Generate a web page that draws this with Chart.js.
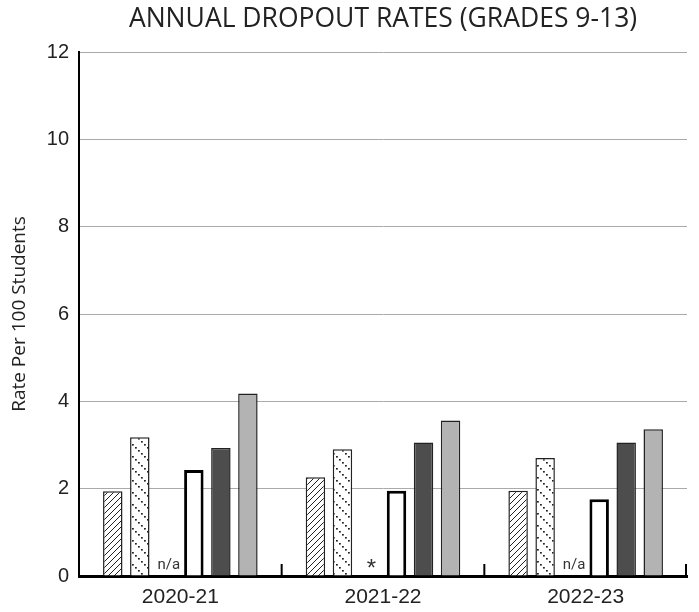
<!DOCTYPE html>
<html>
<head>
<meta charset="utf-8">
<script src="https://cdn.jsdelivr.net/npm/chart.js@4/dist/chart.umd.min.js"></script>
<style>
  html, body { margin: 0; padding: 0; background: #ffffff; }
  #wrap { width: 699px; height: 612px; }
</style>
</head>
<body>
<div id="wrap"><canvas id="c" width="699" height="612"></canvas></div>
<script>
// School years on the category axis
const years = ['2020-21', '2021-22', '2022-23'];

// Dropout rate per 100 students, one array per student group
const groupA = [1.94, 2.26, 1.95];
const groupB = [3.18, 2.90, 2.70];
const groupC = [null, null, null];          // not reported
const groupCNotes = ['n/a', '*', 'n/a'];    // shown where a value is missing
const groupD = [2.43, 1.95, 1.76];
const groupE = [2.93, 3.06, 3.06];
const groupF = [4.18, 3.56, 3.36];

const yTicks = [0, 2, 4, 6, 8, 10, 12];

// Fill patterns
function hatchPattern() {
  const s = 6;
  const c = document.createElement('canvas');
  c.width = s; c.height = s;
  const g = c.getContext('2d');
  g.fillStyle = '#ffffff';
  g.fillRect(0, 0, s, s);
  g.strokeStyle = '#222222';
  g.lineWidth = 1;
  g.beginPath();
  g.moveTo(0, s); g.lineTo(s, 0);
  g.moveTo(-1, 1); g.lineTo(1, -1);
  g.moveTo(s - 1, s + 1); g.lineTo(s + 1, s - 1);
  g.stroke();
  return g.createPattern(c, 'repeat');
}
function dottedPattern() {
  const s = 12;
  const c = document.createElement('canvas');
  c.width = s; c.height = s;
  const g = c.getContext('2d');
  g.fillStyle = '#ffffff';
  g.fillRect(0, 0, s, s);
  g.fillStyle = '#222222';
  for (let i = 0; i < s; i += 3) {
    g.fillRect(i, i, 1.8, 1.6);
  }
  return g.createPattern(c, 'repeat');
}

// Small inward ticks on the category axis at group boundaries
const boundaryTicks = {
  id: 'boundaryTicks',
  afterDatasetsDraw(chart) {
    const x = chart.scales.x;
    const bottom = chart.chartArea.bottom;
    const ctx = chart.ctx;
    ctx.save();
    ctx.strokeStyle = '#000000';
    ctx.lineWidth = 2;
    for (let i = 1; i <= years.length; i++) {
      const px = i < years.length
        ? (x.getPixelForValue(i - 1) + x.getPixelForValue(i)) / 2
        : x.right - 1;
      ctx.beginPath();
      ctx.moveTo(px, bottom);
      ctx.lineTo(px, bottom - 12);
      ctx.stroke();
    }
    ctx.restore();
  }
};

// Notes in place of missing bars
const missingNotes = {
  id: 'missingNotes',
  afterDatasetsDraw(chart) {
    const meta = chart.getDatasetMeta(2);
    const x = chart.scales.x;
    const ctx = chart.ctx;
    const bottom = chart.chartArea.bottom;
    ctx.save();
    ctx.fillStyle = '#333333';
    ctx.textAlign = 'center';
    ctx.textBaseline = 'alphabetic';
    groupCNotes.forEach((note, i) => {
      const el = meta.data[i];
      const px = el && isFinite(el.x) ? el.x : x.getPixelForValue(i);
      if (note === '*') {
        ctx.font = '24px "Liberation Sans", Arial, sans-serif';
        ctx.fillText(note, px + 2, bottom);
      } else {
        ctx.font = '15px "Liberation Sans Narrow", "Roboto", sans-serif';
        ctx.fillText(note, px + 2, bottom - 7);
      }
    });
    ctx.restore();
  }
};

const border = '#222222';
new Chart(document.getElementById('c'), {
  type: 'bar',
  data: {
    labels: years,
    datasets: [
      { label: 'A', data: groupA, backgroundColor: hatchPattern(), borderColor: border, borderWidth: 1.5 },
      { label: 'B', data: groupB, backgroundColor: dottedPattern(), borderColor: border, borderWidth: 1.5 },
      { label: 'C', data: groupC, backgroundColor: '#ffffff', borderColor: border, borderWidth: 1.5 },
      { label: 'D', data: groupD, backgroundColor: '#ffffff', borderColor: '#000000', borderWidth: 3 },
      { label: 'E', data: groupE, backgroundColor: '#4d4d4d', borderColor: border, borderWidth: 1.5 },
      { label: 'F', data: groupF, backgroundColor: '#b3b3b3', borderColor: border, borderWidth: 1.5 }
    ]
  },
  options: {
    responsive: false,
    animation: false,
    devicePixelRatio: 1,
    categoryPercentage: 0.8,
    barPercentage: 0.72,
    layout: { padding: { left: 0, right: 12, top: 0, bottom: 0 } },
    plugins: {
      legend: { display: false },
      tooltip: { enabled: false },
      title: {
        display: true,
        fullSize: false,
        text: 'ANNUAL DROPOUT RATES (GRADES 9-13)',
        color: '#222222',
        font: { family: '"Open Sans", Lato, sans-serif', size: 26.5, weight: 'normal', lineHeight: 1.2 },
        padding: { top: 3.5, bottom: 16.7 }
      }
    },
    scales: {
      x: {
        grid: { display: false, drawTicks: false },
        border: { display: true, color: '#000000', width: 3 },
        ticks: {
          color: '#222222',
          padding: 9,
          font: { family: '"Liberation Sans", Arial, sans-serif', size: 21 }
        },
        afterFit(scale) { scale.height = 36; }
      },
      y: {
        min: 0,
        max: 12,
        afterBuildTicks(scale) { scale.ticks = yTicks.map(v => ({ value: v })); },
        grid: { color: '#aaaaaa', lineWidth: 1, drawTicks: false },
        border: { display: true, color: '#000000', width: 2 },
        ticks: {
          color: '#222222',
          padding: 10,
          font: { family: '"Liberation Sans", Arial, sans-serif', size: 20 }
        },
        title: {
          display: true,
          text: 'Rate Per 100 Students',
          color: '#222222',
          font: { family: '"Open Sans", Lato, sans-serif', size: 19, weight: 'normal', lineHeight: 1.2 },
          padding: { top: 8, bottom: 0 }
        },
        afterFit(scale) { scale.width = 79; }
      }
    }
  },
  plugins: [boundaryTicks, missingNotes]
});
</script>
</body>
</html>
